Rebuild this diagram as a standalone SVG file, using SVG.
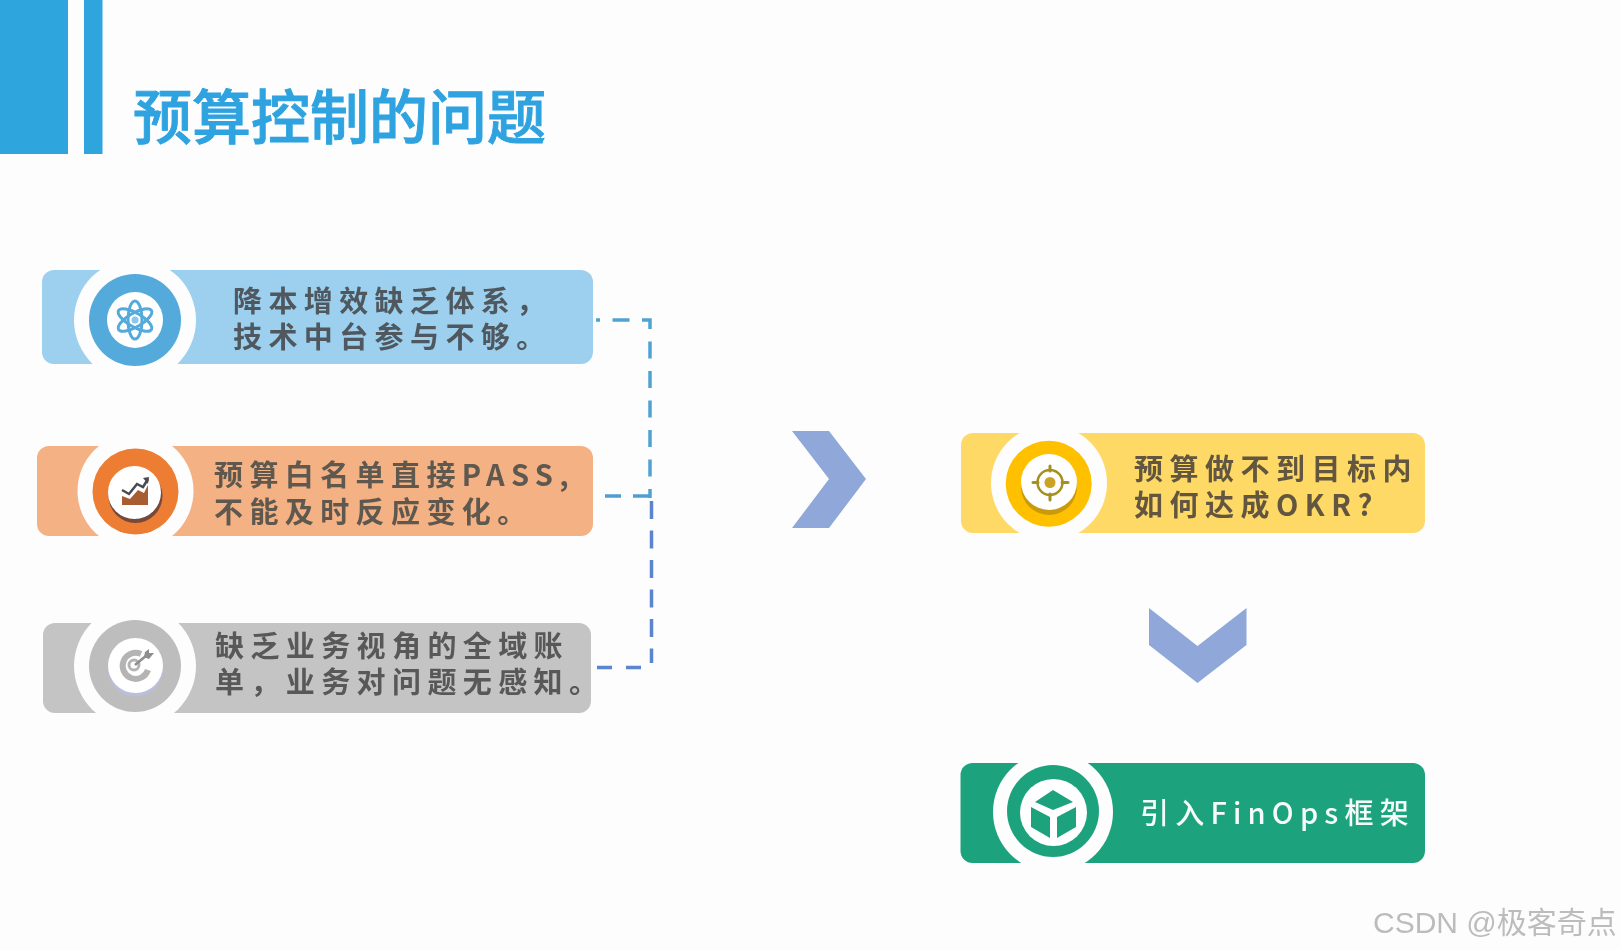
<svg xmlns="http://www.w3.org/2000/svg" width="1621" height="950" viewBox="0 0 1621 950">
<style>
text{font-family:"Noto Sans CJK SC","Noto Sans",sans-serif}
.t{font-size:29px;font-weight:700;letter-spacing:6.400px;fill:#50585f}
.w{font-size:29px;font-weight:500;letter-spacing:6.200px;fill:#f4fbf8}
.title{font-size:59px;font-weight:500;fill:#2ea3e0;stroke:#2ea3e0;stroke-width:.9px}
.wm{font-size:30px;fill:#bcbcbc;font-family:"Liberation Sans","Noto Sans CJK SC",sans-serif}
.ring{fill:#fdfdfe}
.disc{fill:#fff}
.dash{fill:none;stroke-width:3.500}
.chev{fill:#8fa8d9}
</style>
<defs><filter id="soft" x="-2%" y="-2%" width="104%" height="104%"><feGaussianBlur stdDeviation="0.7"/></filter></defs>
<rect width="1621" height="950" fill="#fdfdfe"/>
<g filter="url(#soft)">
<g id="header">
<rect x="0" y="0" width="68" height="154" fill="#2da5dd"/>
<rect x="84" y="0" width="18.500" height="154" fill="#2da5dd"/>
<text class="title" x="133" y="139">预算控制的问题</text>
</g>
<g id="connectors">
<path class="dash" stroke="#4fa3d1" stroke-dasharray="17 12.500" stroke-dashoffset="13" d="M596 320H650V498"/>
<path class="dash" stroke="#4f9fd4" stroke-dasharray="16 12" d="M605 496H650"/>
<path class="dash" stroke="#5b85d0" stroke-dasharray="18 11.500" d="M651.500 501V663"/>
<path class="dash" stroke="#5b85d0" stroke-dasharray="15 14" d="M597 667.500H642"/>
</g>
<g id="node-blue">
<rect x="42" y="270" width="551" height="94" rx="12" fill="#9dd0ee"/>
<circle class="ring" cx="135" cy="320" r="61"/>
<circle cx="135" cy="320" r="46" fill="#54aadc"/>
<circle class="disc" cx="135" cy="320" r="28"/>
<g fill="none" stroke="#54aadc" stroke-width="3">
<ellipse cx="135" cy="320" rx="7" ry="19"/>
<ellipse cx="135" cy="320" rx="7" ry="19" transform="rotate(60 135 320)"/>
<ellipse cx="135" cy="320" rx="7" ry="19" transform="rotate(120 135 320)"/>
</g>
<circle cx="135" cy="320" r="3.500" fill="#8cc6e8"/>
<text class="t"><tspan x="233" y="312">降本增效缺乏体系，</tspan><tspan x="233" y="348">技术中台参与不够。</tspan></text>
</g>
<g id="node-orange">
<rect x="37" y="446" width="556" height="90" rx="12" fill="#f4b183"/>
<circle class="ring" cx="135.500" cy="491" r="58"/>
<circle cx="135.500" cy="491.500" r="43" fill="#ed7d31"/>
<circle cx="135.500" cy="496" r="27" fill="#75483a"/>
<circle class="disc" cx="134.500" cy="492.500" r="26.500"/>
<path d="M122 496L130 499L138 490L144 493L148 485V505H122Z" fill="#a85c30"/>
<path d="M122 490L129 494L137 484L143 487L148 479" fill="none" stroke="#4a4a55" stroke-width="2.500"/>
<path d="M143 478L149 477L148 484Z" fill="#4a4a55"/>
<text class="t" style="fill:#5e5850"><tspan x="214" y="486">预算白名单直接PASS,</tspan><tspan x="214" y="523">不能及时反应变化。</tspan></text>
</g>
<g id="node-gray">
<rect x="43" y="623" width="548" height="90" rx="12" fill="#c4c4c4"/>
<circle class="ring" cx="135" cy="666" r="61"/>
<circle cx="135" cy="666" r="46" fill="#bdbdbd"/>
<circle cx="135.500" cy="669" r="27.500" fill="#b9bfdc"/>
<circle class="disc" cx="135.500" cy="665.500" r="27.500"/>
<path d="M141 654A13 13 0 1 0 148 670" fill="none" stroke="#b4b4b4" stroke-width="6"/>
<circle cx="134" cy="665" r="5" fill="none" stroke="#b4b4b4" stroke-width="3"/>
<path d="M135 665L147 655" stroke="#8f8f8f" stroke-width="2.500"/>
<path d="M145 652L149 649L149 653L154 653L149 659L144 657Z" fill="#8f8f8f"/>
<text class="t" style="fill:#585858"><tspan x="215" y="657">缺乏业务视角的全域账</tspan><tspan x="215" y="693">单，业务对问题无感知。</tspan></text>
</g>
<g id="node-yellow">
<rect x="961" y="433" width="464" height="100" rx="12" fill="#ffd966"/>
<circle class="ring" cx="1049" cy="483" r="58"/>
<circle cx="1048.700" cy="483.700" r="43" fill="#ffc000"/>
<circle cx="1049" cy="487" r="28" fill="#c99a08"/>
<circle class="disc" cx="1049" cy="482" r="28"/>
<circle cx="1050" cy="482.500" r="12.500" fill="none" stroke="#a59020" stroke-width="2.500"/>
<circle cx="1050" cy="482.500" r="5.500" fill="#c9a227"/>
<path d="M1050 466V471M1050 494V500M1033 482.500H1038M1062 482.500H1068" stroke="#a59020" stroke-width="3" stroke-linecap="round"/>
<text class="t" style="letter-spacing:6.500px;fill:#62573f"><tspan x="1134" y="480">预算做不到目标内</tspan><tspan x="1134" y="516">如何达成OKR?</tspan></text>
</g>
<g id="node-green">
<rect x="960.500" y="763" width="464.500" height="100" rx="12" fill="#1fa37e"/>
<circle class="ring" cx="1053" cy="812" r="60"/>
<circle cx="1053" cy="811" r="46" fill="#1fa37e"/>
<circle class="disc" cx="1053.500" cy="812.500" r="33.500"/>
<path d="M1053 790L1073 802L1053 810L1035 802ZM1031 807L1050 817V838L1031 827ZM1076 807L1057 817V838L1076 827Z" fill="#1fa37e"/>
<text class="w" x="1140" y="824">引入FinOps框架</text>
</g>
<g id="chevron-right"><path class="chev" d="M792 431H829L866 479L829 528H792L829 479Z"/></g>
<g id="chevron-down"><path class="chev" d="M1149 608L1197.500 646L1246.500 608V645L1197.500 683L1149 645Z"/></g>
<text class="wm" x="1373" y="933">CSDN @极客奇点</text>
</g>
</svg>
